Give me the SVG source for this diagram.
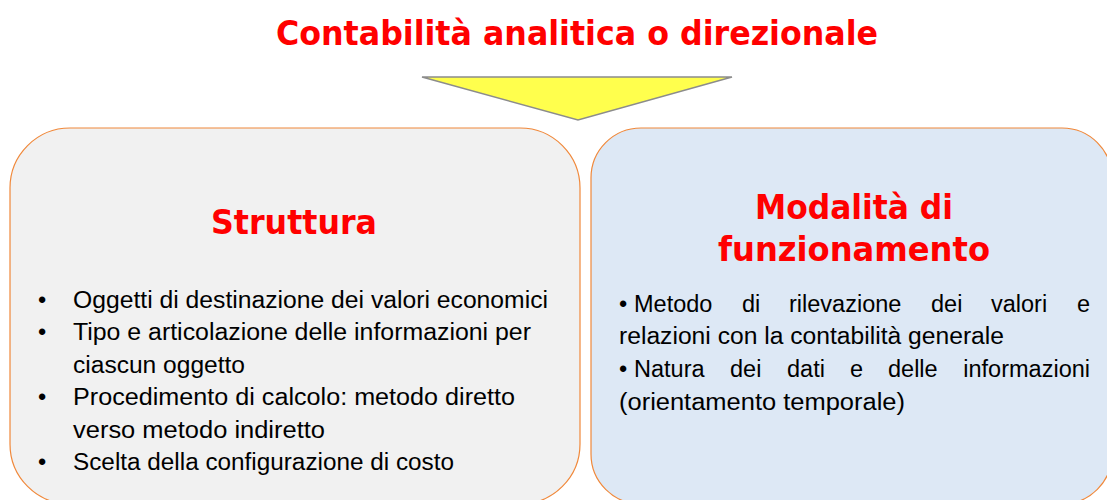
<svg xmlns="http://www.w3.org/2000/svg" width="1107" height="500" viewBox="0 0 1107 500">
  <style>
    .head { font-family: "DejaVu Sans Condensed", "DejaVu Sans", sans-serif; font-weight: bold; fill: #ff0000; }
    .body { font-family: "Liberation Sans", Arial, sans-serif; font-size: 23.5px; fill: #000000; }
    .box { stroke: #f0883a; stroke-width: 1.2; }
  </style>
  <rect width="1107" height="500" fill="#ffffff"/>
  <g id="title">
    <text class="head" x="577" y="45" font-size="34" text-anchor="middle" textLength="602" lengthAdjust="spacingAndGlyphs">Contabilità analitica o direzionale</text>
  </g>
  <g id="connectors">
    <polygon points="422,77 732,77 578,120" fill="#ffff4d" stroke="#8c8c8c" stroke-width="1.5" stroke-linejoin="miter"/>
  </g>
  <g id="node-struttura">
    <rect class="box" x="10" y="128" width="570" height="376" rx="60" ry="60" fill="#f1f1f1"/>
    <text class="head" x="294" y="234" font-size="34" text-anchor="middle" textLength="166" lengthAdjust="spacingAndGlyphs">Struttura</text>
    <g class="body">
      <text x="38" y="308">•</text>
      <text x="73" y="308" textLength="475" lengthAdjust="spacingAndGlyphs">Oggetti di destinazione dei valori economici</text>
      <text x="38" y="340">•</text>
      <text x="73" y="340" textLength="458" lengthAdjust="spacingAndGlyphs">Tipo e articolazione delle informazioni per</text>
      <text x="73" y="373" textLength="172" lengthAdjust="spacingAndGlyphs">ciascun oggetto</text>
      <text x="38" y="405">•</text>
      <text x="73" y="405" textLength="442" lengthAdjust="spacingAndGlyphs">Procedimento di calcolo: metodo diretto</text>
      <text x="73" y="438" textLength="252" lengthAdjust="spacingAndGlyphs">verso metodo indiretto</text>
      <text x="38" y="470">•</text>
      <text x="73" y="470" textLength="381" lengthAdjust="spacingAndGlyphs">Scelta della configurazione di costo</text>
    </g>
  </g>
  <g id="node-modalita">
    <rect class="box" x="591" y="128" width="521" height="376" rx="50" ry="50" fill="#dde8f5"/>
    <text class="head" x="854" y="219" font-size="34" text-anchor="middle" textLength="198" lengthAdjust="spacingAndGlyphs">Modalità di</text>
    <text class="head" x="854" y="261" font-size="34" text-anchor="middle" textLength="272" lengthAdjust="spacingAndGlyphs">funzionamento</text>
    <g class="body">
      <text x="619" y="312">•</text>
      <text x="634" y="312">Metodo</text>
      <text x="742" y="312">di</text>
      <text x="789" y="312">rilevazione</text>
      <text x="931" y="312">dei</text>
      <text x="991" y="312">valori</text>
      <text x="1090" y="312" text-anchor="end">e</text>
      <text x="619" y="344" textLength="385" lengthAdjust="spacingAndGlyphs">relazioni con la contabilità generale</text>
      <text x="619" y="377">•</text>
      <text x="634" y="377">Natura</text>
      <text x="730" y="377">dei</text>
      <text x="787" y="377">dati</text>
      <text x="850" y="377">e</text>
      <text x="888" y="377">delle</text>
      <text x="1090" y="377" text-anchor="end">informazioni</text>
      <text x="619" y="410" textLength="286" lengthAdjust="spacingAndGlyphs">(orientamento temporale)</text>
    </g>
  </g>
</svg>
